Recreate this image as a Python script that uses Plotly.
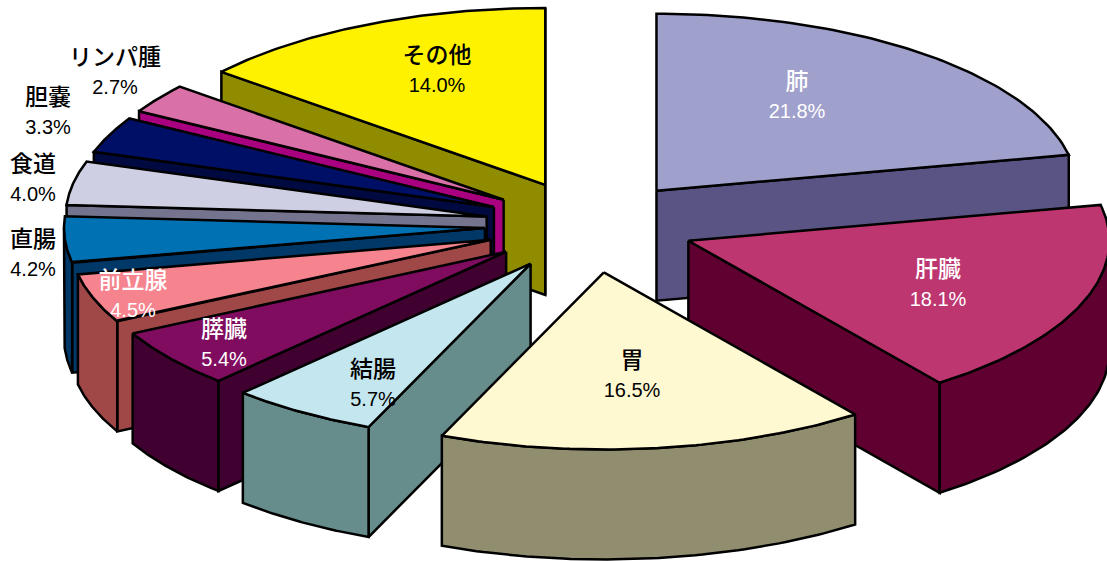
import numpy as np
import plotly.graph_objects as go

# Cancer sites and their share of deaths (%), clockwise from twelve o'clock
categories = ["肺", "肝臓", "胃", "結腸", "膵臓", "前立腺", "直腸", "食道", "胆嚢", "リンパ腫", "その他"]
values = [21.8, 18.1, 16.5, 5.7, 5.4, 4.5, 4.2, 4.0, 3.3, 2.7, 14.0]

top_colors = ["#A0A0CC", "#BE3670", "#FFF9D2", "#C4E6EE", "#800C60", "#F5848F",
              "#0072B4", "#CFCFE4", "#000F66", "#D970A8", "#FFF200"]
side_colors = ["#5A5484", "#600030", "#918E70", "#668C8C", "#400030", "#A04848",
               "#003868", "#75748E", "#000A40", "#A8007F", "#908C00"]
label_colors = ["white", "white", "black", "black", "white", "white",
                "black", "black", "black", "black", "black"]
label_centers = [(797, 95), (938, 283), (632, 374), (373, 383), (224, 343), (133, 294),
                 (33, 253), (33, 178), (48, 111), (115, 71), (437, 69)]
# How far each slice is pulled out, as a fraction of the radius
explode = [0.25, 0.25, 0.27, 0.26, 0.25, 0.25, 0.25, 0.25, 0.25, 0.25, 0.25]

# Projection of the tilted pie on the page
CX, CY = 590, 225
RX, RY = 421, 177
DEPTH = 110
# Back slices are painted first, then the near ones
paint_order = [10, 0, 9, 8, 7, 6, 5, 4, 3, 1, 2]

total = sum(values)
edges = np.concatenate([[0], np.cumsum(values)]) / total * 2 * np.pi


def rim(cx, cy, t):
    return cx + RX * np.sin(t), cy - RY * np.cos(t)


def polygon(x, y, color):
    return go.Scatter(x=list(x) + [x[0]], y=list(y) + [y[0]], mode="lines", fill="toself",
                      fillcolor=color, line=dict(color="black", width=2.5),
                      hoverinfo="skip", showlegend=False)


def radial_wall(cx, cy, t, color):
    rx, ry = rim(cx, cy, t)
    return polygon([cx, rx, rx, cx], [cy, ry, ry + DEPTH, cy + DEPTH], color)


fig = go.Figure()
for i in paint_order:
    t0, t1 = edges[i], edges[i + 1]
    mid = (t0 + t1) / 2
    ax = CX + explode[i] * RX * np.sin(mid)
    ay = CY - explode[i] * RY * np.cos(mid)

    # Walls facing the viewer
    if np.sin(t0) < 0:
        fig.add_trace(radial_wall(ax, ay, t0, side_colors[i]))
    if np.sin(t1) > 0:
        fig.add_trace(radial_wall(ax, ay, t1, side_colors[i]))
    lo, hi = max(t0, np.pi / 2), min(t1, 3 * np.pi / 2)
    if hi > lo:
        ts = np.linspace(lo, hi, 60)
        rx, ry = rim(ax, ay, ts)
        fig.add_trace(polygon(np.r_[rx, rx[::-1]], np.r_[ry, ry[::-1] + DEPTH], side_colors[i]))

    # Top face
    ts = np.linspace(t0, t1, 80)
    rx, ry = rim(ax, ay, ts)
    fig.add_trace(polygon(np.r_[ax, rx], np.r_[ay, ry], top_colors[i]))

fig.add_trace(go.Scatter(
    x=[p[0] for p in label_centers], y=[p[1] - 12 for p in label_centers],
    mode="text", text=categories, textposition="middle center",
    textfont=dict(family="Noto Sans CJK JP, sans-serif", size=23, color=label_colors, weight=500),
    hoverinfo="skip", showlegend=False))
fig.add_trace(go.Scatter(
    x=[p[0] for p in label_centers], y=[p[1] + 18 for p in label_centers],
    mode="text", text=[f"{v:.1f}%" for v in values], textposition="middle center",
    textfont=dict(family="Liberation Sans, sans-serif", size=20, color=label_colors),
    hoverinfo="skip", showlegend=False))

fig.update_layout(
    width=1107, height=561,
    margin=dict(l=0, r=0, t=0, b=0),
    paper_bgcolor="white", plot_bgcolor="white",
    xaxis=dict(range=[0, 1107], visible=False, fixedrange=True),
    yaxis=dict(range=[561, 0], visible=False, fixedrange=True),
)
fig.write_html("out.html", config=dict(displayModeBar=False))
